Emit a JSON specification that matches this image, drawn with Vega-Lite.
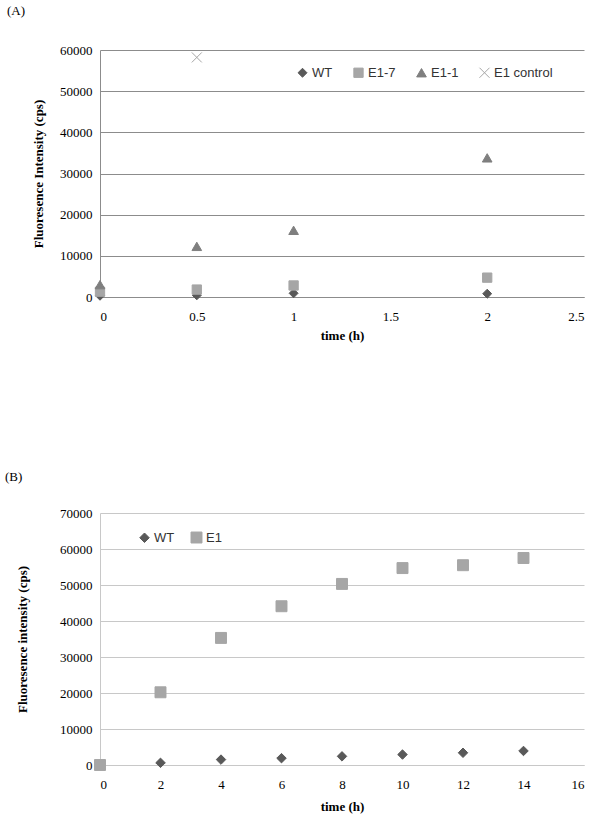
{
  "$schema": "https://vega.github.io/schema/vega-lite/v6.json",
  "padding": {"left": 5, "top": 5, "right": 10, "bottom": 5},
  "background": "white",
  "spacing": 129,
  "config": {
    "view": {"stroke": null},
    "axis": {"labelFont": "Liberation Serif", "labelFontSize": 13, "labelColor": "#000000", "titleFont": "Liberation Serif", "titleFontSize": 13, "titleFontWeight": "bold", "titleColor": "#000000", "ticks": false, "labelPadding": 8},
    "axisX": {"labelPadding": 13},
    "legend": {"labelFont": "Liberation Sans", "labelFontSize": 13, "labelColor": "#333333", "symbolSize": 50, "symbolStrokeWidth": 1}
  },
  "vconcat": [
    {
      "title": {"text": "(A)", "anchor": "start", "frame": "group", "dx": -93, "font": "Liberation Serif", "fontSize": 13, "fontWeight": "normal", "offset": 26},
      "width": 484,
      "height": 247,
      "data": {"values": [
        {"series": "WT", "time": 0, "value": 300},
        {"series": "WT", "time": 0.5, "value": 400},
        {"series": "WT", "time": 1, "value": 900},
        {"series": "WT", "time": 2, "value": 800},
        {"series": "E1-7", "time": 0, "value": 1300},
        {"series": "E1-7", "time": 0.5, "value": 1800},
        {"series": "E1-7", "time": 1, "value": 2800},
        {"series": "E1-7", "time": 2, "value": 4700},
        {"series": "E1-1", "time": 0, "value": 3000},
        {"series": "E1-1", "time": 0.5, "value": 12300},
        {"series": "E1-1", "time": 1, "value": 16200},
        {"series": "E1-1", "time": 2, "value": 33800},
        {"series": "E1 control", "time": 0.5, "value": 58200}
      ]},
      "mark": {"type": "point", "filled": true, "opacity": 1, "strokeWidth": 1},
      "encoding": {
        "x": {"field": "time", "type": "quantitative", "title": "time (h)", "scale": {"domain": [0, 2.5], "nice": false}, "axis": {"values": [0, 0.5, 1, 1.5, 2, 2.5], "format": "~g", "grid": false, "domainColor": "#8C8C8C", "titlePadding": 6}},
        "y": {"field": "value", "type": "quantitative", "title": "Fluoresence Intensity (cps)", "scale": {"domain": [0, 60000], "nice": false}, "axis": {"values": [0, 10000, 20000, 30000, 40000, 50000, 60000], "format": "d", "gridColor": "#8C8C8C", "domainColor": "#8C8C8C", "titlePadding": 14}},
        "color": {"field": "series", "type": "nominal", "scale": {"domain": ["WT", "E1-7", "E1-1", "E1 control"], "range": ["#595959", "#A6A6A6", "#7F7F7F", "#A6A6A6"]}, "legend": {"title": null, "orient": "none", "legendX": 196, "legendY": 16, "direction": "horizontal", "columnPadding": 18, "labelOffset": 3}},
        "stroke": {"field": "series", "type": "nominal", "scale": {"domain": ["WT", "E1-7", "E1-1", "E1 control"], "range": ["#595959", "#A6A6A6", "#7F7F7F", "#A6A6A6"]}, "legend": {"title": null, "orient": "none", "legendX": 196, "legendY": 16, "direction": "horizontal", "columnPadding": 18, "labelOffset": 3}},
        "shape": {"field": "series", "type": "nominal", "scale": {"domain": ["WT", "E1-7", "E1-1", "E1 control"], "range": ["diamond", "square", "triangle-up", "M-1,-1L1,1M-1,1L1,-1"]}, "legend": {"title": null, "orient": "none", "legendX": 196, "legendY": 16, "direction": "horizontal", "columnPadding": 18, "labelOffset": 3}},
        "size": {"field": "series", "type": "nominal", "scale": {"domain": ["WT", "E1-7", "E1-1", "E1 control"], "range": [80, 100, 120, 150]}, "legend": null}
      }
    },
    {
      "title": {"text": "(B)", "anchor": "start", "frame": "group", "dx": -95, "font": "Liberation Serif", "fontSize": 13, "fontWeight": "normal", "offset": 23},
      "width": 484,
      "height": 252,
      "data": {"values": [
        {"series": "WT", "time": 0, "value": 0},
        {"series": "WT", "time": 2, "value": 600},
        {"series": "WT", "time": 4, "value": 1500},
        {"series": "WT", "time": 6, "value": 1900},
        {"series": "WT", "time": 8, "value": 2400},
        {"series": "WT", "time": 10, "value": 2900},
        {"series": "WT", "time": 12, "value": 3400},
        {"series": "WT", "time": 14, "value": 3900},
        {"series": "E1", "time": 0, "value": 0},
        {"series": "E1", "time": 2, "value": 20200},
        {"series": "E1", "time": 4, "value": 35300},
        {"series": "E1", "time": 6, "value": 44100},
        {"series": "E1", "time": 8, "value": 50300},
        {"series": "E1", "time": 10, "value": 54700},
        {"series": "E1", "time": 12, "value": 55500},
        {"series": "E1", "time": 14, "value": 57500}
      ]},
      "mark": {"type": "point", "filled": true, "opacity": 1, "strokeWidth": 1},
      "encoding": {
        "x": {"field": "time", "type": "quantitative", "title": "time (h)", "scale": {"domain": [0, 16], "nice": false}, "axis": {"values": [0, 2, 4, 6, 8, 10, 12, 14, 16], "grid": false, "domainColor": "#C8C8C8", "titlePadding": 9}},
        "y": {"field": "value", "type": "quantitative", "title": "Fluoresence intensity (cps)", "scale": {"domain": [0, 70000], "nice": false}, "axis": {"values": [0, 10000, 20000, 30000, 40000, 50000, 60000, 70000], "format": "d", "gridColor": "#C8C8C8", "domainColor": "#C8C8C8", "titlePadding": 30}},
        "color": {"field": "series", "type": "nominal", "scale": {"domain": ["WT", "E1"], "range": ["#595959", "#A6A6A6"]}, "legend": {"title": null, "orient": "none", "legendX": 38, "legendY": 18, "direction": "horizontal", "columnPadding": 14, "labelOffset": 3}},
        "stroke": {"field": "series", "type": "nominal", "scale": {"domain": ["WT", "E1"], "range": ["#595959", "#A6A6A6"]}, "legend": {"title": null, "orient": "none", "legendX": 38, "legendY": 18, "direction": "horizontal", "columnPadding": 14, "labelOffset": 3}},
        "shape": {"field": "series", "type": "nominal", "scale": {"domain": ["WT", "E1"], "range": ["diamond", "square"]}, "legend": {"title": null, "orient": "none", "legendX": 38, "legendY": 18, "direction": "horizontal", "columnPadding": 14, "labelOffset": 3}},
        "size": {"field": "series", "type": "nominal", "scale": {"domain": ["WT", "E1"], "range": [90, 120]}, "legend": null}
      }
    }
  ],
  "resolve": {"scale": {"color": "independent", "stroke": "independent", "shape": "independent", "size": "independent"}, "legend": {"color": "independent", "stroke": "independent", "shape": "independent"}}
}
